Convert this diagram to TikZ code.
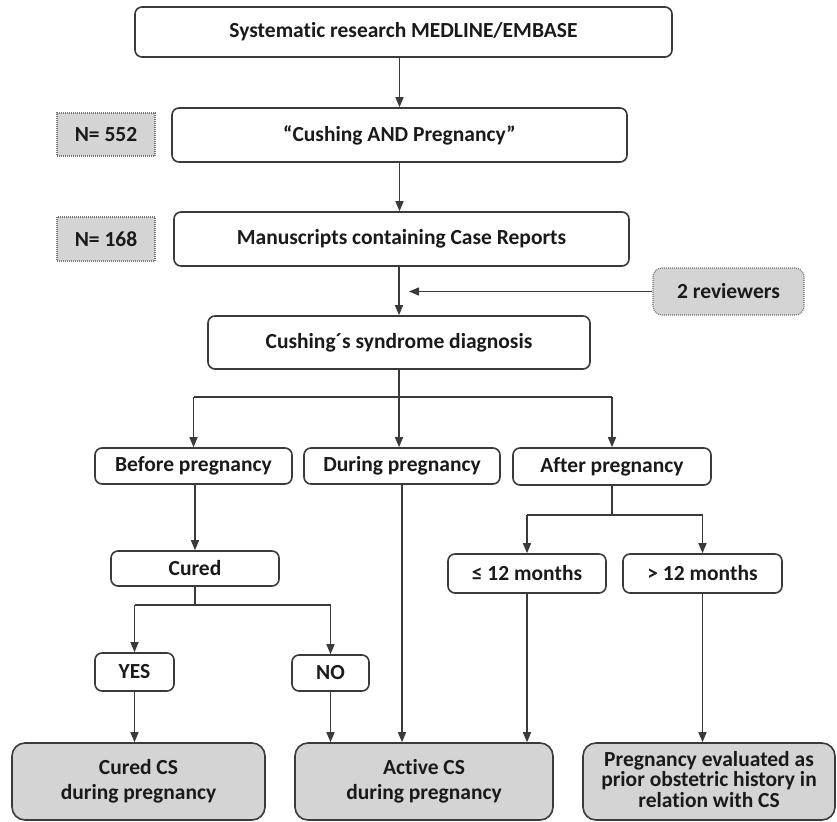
\documentclass[tikz,border=0pt]{standalone}
\usepackage{fontspec}
\setmainfont{Carlito}[Ligatures=NoCommon]
\usetikzlibrary{arrows.meta,calc}
\definecolor{lncol}{HTML}{3A3A3A}
\definecolor{grfill}{HTML}{D4D4D4}
\definecolor{txcol}{HTML}{1A1A1A}
\begin{document}
\begin{tikzpicture}[x=1pt,y=-1pt,
  font=\fontsize{21.5}{25}\selectfont\bfseries,
  box/.style={draw=lncol, line width=1.6pt, rounded corners=7pt, fill=white, inner sep=0pt, align=center, text=txcol},
  endbox/.style={box, fill=grfill, rounded corners=13pt},
  nbox/.style={draw=lncol!70, line width=1.1pt, dash pattern=on 1pt off 1pt, fill=grfill, inner sep=0pt, text=txcol},
  revbox/.style={nbox, rounded corners=9pt},
  arr/.style={draw=lncol, line width=1.5pt, -{Triangle[length=10pt,width=8pt]}},
  conn/.style={draw=lncol, line width=1.5pt}
]
\useasboundingbox (0,0) rectangle (837,821);

% top chain
\node[box, minimum width=537pt, minimum height=50pt] (b1) at (403.5,32) {Systematic research MEDLINE/EMBASE};
\node[box, minimum width=455pt, minimum height=54pt] (b2) at (399.5,135) {“Cushing AND Pregnancy”};
\node[box, minimum width=455pt, minimum height=54pt] (b3) at (401.5,239) {Manuscripts containing Case Reports};
\node[nbox, minimum width=98pt, minimum height=43pt] (n552) at (106,134.5) {N= 552};
\node[nbox, minimum width=98pt, minimum height=44pt] (n168) at (106,239) {N= 168};
\node[revbox, minimum width=151pt, minimum height=47pt] (rev) at (728.5,291.5) {2 reviewers};
\node[box, minimum width=382pt, minimum height=53pt] (csd) at (399,342.5) {Cushing´s syndrome diagnosis};

% level 2
\node[box, minimum width=197pt, minimum height=36pt] (before) at (193.5,466) {Before pregnancy};
\node[box, minimum width=196pt, minimum height=36pt] (during) at (402,466) {During pregnancy};
\node[box, minimum width=198pt, minimum height=37pt] (after) at (612,466.5) {After pregnancy};

% level 3
\node[box, minimum width=168pt, minimum height=35pt] (cured) at (195,568.5) {Cured};
\node[box, minimum width=158pt, minimum height=39pt] (le12) at (527,573.5) {≤ 12 months};
\node[box, minimum width=159pt, minimum height=39pt] (gt12) at (702.5,573.5) {> 12 months};

% level 4
\node[box, minimum width=79pt, minimum height=38pt] (yes) at (134.5,672) {YES};
\node[box, minimum width=77pt, minimum height=36pt] (no) at (330.5,673) {NO};

% outcomes
\node[endbox, minimum width=253pt, minimum height=77pt, text depth=4pt] (curedcs) at (138.5,781.5) {Cured CS\\during pregnancy};
\node[endbox, minimum width=258pt, minimum height=77pt, text depth=4pt] (active) at (424,781.5) {Active CS\\during pregnancy};
\node[endbox, minimum width=252pt, minimum height=77pt, text depth=5pt, font=\fontsize{21.5}{20.5}\selectfont\bfseries] (preg) at (709,781.5) {Pregnancy evaluated as\\prior obstetric history in\\relation with CS};

% connectors top
\draw[arr] (b2.north |- b1.south) -- (b2.north);
\draw[arr] (b2.south) -- (b2.south |- b3.north);
\draw[arr] (csd.north |- b3.south) -- (csd.north);
\coordinate (revtip) at ($(csd.north |- rev.west)+(10,0)$);
\draw[arr] (rev.west) -- (revtip);

% branch from diagnosis
\coordinate (br1) at ($(csd.south)+(0,27)$);
\draw[conn] (br1 -| before.north) -- (br1 -| after.north);
\draw[arr] (csd.south) -- (csd.south |- during.north);
\draw[arr] (br1 -| before.north) -- (before.north);
\draw[arr] (br1 -| after.north) -- (after.north);

% before -> cured
\draw[arr] (before.south -| cured.north) -- (cured.north);

% cured -> yes/no
\coordinate (br2) at ($(cured.south)+(0,18)$);
\draw[conn] (cured.south) -- (br2);
\draw[conn] (br2 -| yes.north) -- (br2 -| no.north);
\draw[arr] (br2 -| yes.north) -- (yes.north);
\draw[arr] (br2 -| no.north) -- (no.north);

% after -> le12 / gt12
\coordinate (br3) at ($(after.south)+(0,29)$);
\draw[conn] (after.south) -- (br3);
\draw[conn] (br3 -| le12.north) -- (br3 -| gt12.north);
\draw[arr] (br3 -| le12.north) -- (le12.north);
\draw[arr] (br3 -| gt12.north) -- (gt12.north);

% to outcomes
\draw[arr] (yes.south) -- (yes.south |- curedcs.north);
\draw[arr] (no.south) -- (no.south |- active.north);
\draw[arr] (during.south) -- (during.south |- active.north);
\draw[arr] (le12.south) -- (le12.south |- active.north);
\draw[arr] (gt12.south) -- (gt12.south |- preg.north);
\end{tikzpicture}
\end{document}
